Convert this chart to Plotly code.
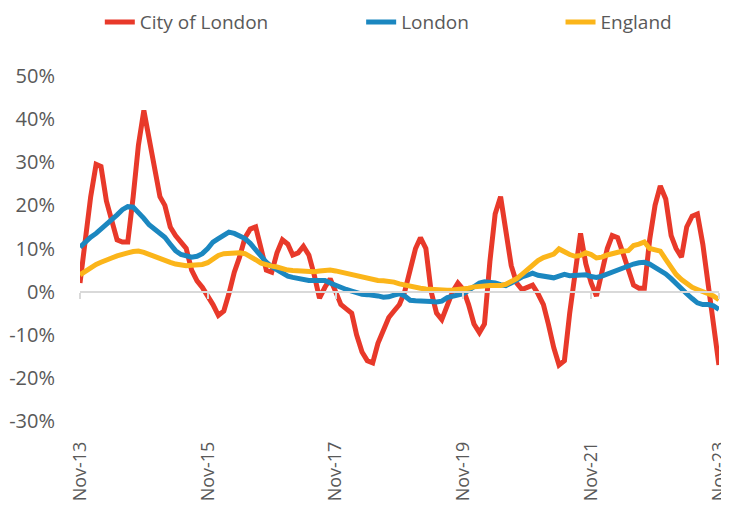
import plotly.graph_objects as go
import pandas as pd

months = pd.date_range("2013-11-01", "2023-11-01", freq="MS")

city_of_london = [
    2, 12, 22, 29.5, 29, 21, 17, 12, 11.5, 11.5,
    22, 34, 42, 35, 28, 22, 20, 15, 13, 11.5,
    10, 5, 2.5, 1, -1, -3, -5.5, -4.5, -0.5, 4.5,
    8, 12.5, 14.5, 15, 10, 5, 4.5, 9, 12, 11,
    8.5, 9, 10.5, 8.5, 4, -1.5, 1, 3, 0, -3,
    -4, -5, -10, -14, -16, -16.5, -12, -9, -6, -4.5,
    -3, 0, 5, 10, 12.5, 10, 0, -5, -6.5, -3,
    0, 2, 0.5, -3, -7.5, -9.5, -7.5, 7, 18, 22,
    14, 6, 2, 0.5, 1, 1.5, -0.5, -3, -7.5, -13,
    -17, -16, -5, 5, 13.5, 6.5, 2, -1, 4, 10,
    13, 12.5, 9, 5, 1.5, 0.8, 0.8, 12, 20, 24.5,
    21.5, 13, 10, 8, 15, 17.5, 18, 11, 2, -8,
    -17,
]

london = [
    10.3, 11.5, 12.6, 13.5, 14.5, 15.3, 16.5, 17.8, 19, 19.7,
    19.6, 18.5, 17, 15.5, 14.6, 13.5, 12.6, 11, 9.5, 8.6,
    8.2, 8, 8.2, 8.8, 10, 11.5, 12.3, 13.2, 13.8, 13.5,
    13, 12.3, 11.2, 9.6, 8, 6.8, 5.8, 5, 4.3, 3.6,
    3.3, 3, 2.8, 2.6, 2.6, 2.7, 2.6, 2, 1.4, 0.9,
    0.5, 0.1, -0.3, -0.6, -0.7, -0.8, -1, -1.3, -1.2, -0.8,
    -0.5, -1, -2, -2.1, -2.1, -2.2, -2.3, -2.4, -2.2, -1.4,
    -1, -0.8, -0.5, 0.3, 1.2, 2, 2.3, 2.2, 2, 1.6,
    1.4, 2, 2.8, 3.4, 3.8, 4.3, 3.8, 3.6, 3.5, 3.2,
    3.6, 4, 3.7, 3.8, 4, 3.9, 3.5, 3.3, 3.6, 4.1,
    4.4, 4.8, 5.3, 5.9, 6.4, 6.7, 6.8, 6.4, 5.7, 5,
    4.1, 3, 1.8, 0.6, -0.5, -1.6, -2.6, -3, -3, -3.3,
    -4.1,
]

england = [
    3.9, 4.8, 5.6, 6.3, 6.8, 7.2, 7.8, 8.3, 8.8, 9,
    9.3, 9.4, 9.1, 8.6, 8, 7.6, 7.2, 6.8, 6.4, 6.1,
    6, 6.1, 6.2, 6.3, 6.7, 7.6, 8.4, 8.8, 8.9, 9,
    9, 8.8, 8.2, 7.4, 6.6, 6.2, 5.9, 5.7, 5.3, 5,
    4.9, 4.8, 4.6, 4.5, 4.6, 4.8, 5, 5, 4.8, 4.5,
    4.3, 4.1, 3.7, 3.3, 3, 2.8, 2.6, 2.5, 2.4, 2.2,
    1.8, 1.5, 1.2, 1, 0.8, 0.6, 0.5, 0.4, 0.3, 0.3,
    0.4, 0.5, 0.6, 0.8, 1.1, 1.3, 1.4, 1.4, 1.4, 1.4,
    1.7, 2.3, 3, 4, 5.2, 6.2, 7.2, 7.9, 8.3, 8.7,
    9.9, 9.1, 8.6, 8.2, 8.4, 9, 8.6, 7.8, 8, 8.5,
    8.8, 9.2, 9.4, 9.5, 10.7, 11, 11.5, 10, 9.7, 9.4,
    7.5, 5.5, 4, 2.8, 1.8, 1, 0.5, 0.1, -0.5, -1,
    -1.9,
]

series_names = ["City of London", "London", "England"]
series_colors = ["#E8392A", "#1B87C0", "#FBB51A"]
y_ticks = [-30, -20, -10, 0, 10, 20, 30, 40, 50]
y_tick_labels = ["-30%", "-20%", "-10%", "0%", "10%", "20%", "30%", "40%", "50%"]
x_tick_dates = ["2013-11-01", "2015-11-01", "2017-11-01", "2019-11-01", "2021-11-01", "2023-11-01"]
x_tick_labels = ["Nov-13", "Nov-15", "Nov-17", "Nov-19", "Nov-21", "Nov-23"]

TEXT = "#595959"
FONT = "Open Sans"

fig = go.Figure()
legend_ids = ["legend", "legend2", "legend3"]
for name, vals, col, lg in zip(series_names, [city_of_london, london, england], series_colors, legend_ids):
    fig.add_trace(go.Scatter(
        x=months, y=[v / 100 for v in vals], mode="lines", name=name,
        line=dict(color=col, width=5), legend=lg,
    ))

# invisible trace so the zero-line axis (with its tick marks) is drawn
fig.add_trace(go.Scatter(x=months, y=[0.0 for _ in months], xaxis="x2", mode="lines",
                         line=dict(width=0), showlegend=False, hoverinfo="skip"))

x_end = months[-1] + pd.Timedelta(hours=12)

legend_x = [0.031, 0.44, 0.752]
common_legend = dict(orientation="h", yanchor="middle", y=1.156, xanchor="left",
                     font=dict(family=FONT, size=19, color=TEXT), bgcolor="rgba(0,0,0,0)",
                     itemwidth=30)
layout_legends = {}
for lg, lx in zip(legend_ids, legend_x):
    layout_legends[lg] = dict(common_legend, x=lx)

fig.update_layout(
    width=721, height=501,
    margin=dict(l=72, r=10, t=68, b=88, autoexpand=False),
    paper_bgcolor="white", plot_bgcolor="white",
    showlegend=True,
    xaxis=dict(
        type="date", range=[months[0], x_end],
        tickvals=x_tick_dates, ticktext=x_tick_labels,
        tickangle=-90, showgrid=False, zeroline=False, showline=False,
        ticks="", ticklabelstandoff=16, ticklabeloverflow="allow",
        tickfont=dict(family=FONT, size=18, color=TEXT),
    ),
    xaxis2=dict(
        type="date", overlaying="x", matches="x", anchor="free", position=0.375,
        tickvals=x_tick_dates, showticklabels=False,
        showgrid=False, zeroline=False, showline=True, linecolor="#D9D9D9", linewidth=2,
        ticks="outside", ticklen=6, tickwidth=1.5, tickcolor="#D9D9D9",
    ),
    yaxis=dict(
        range=[-0.3, 0.5], tickvals=[v / 100 for v in y_ticks], ticktext=y_tick_labels,
        showgrid=False, zeroline=False, showline=False, ticks="",
        ticklabelstandoff=24,
        tickfont=dict(family=FONT, size=20, color=TEXT),
    ),
    **layout_legends,
)

fig.write_html("out.html")
